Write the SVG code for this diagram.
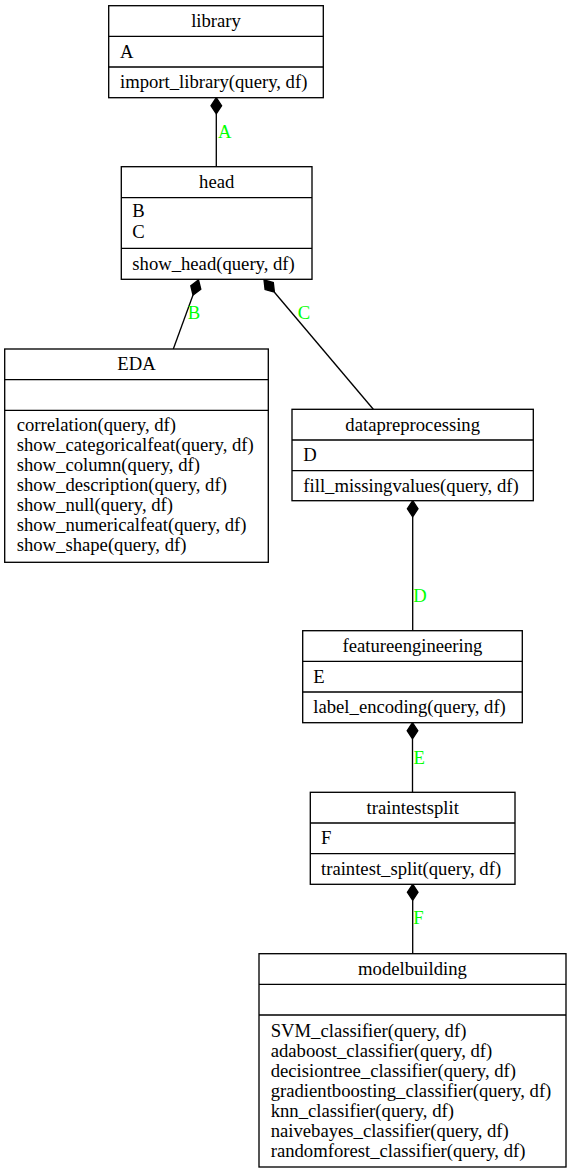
<svg xmlns="http://www.w3.org/2000/svg" width="571" height="1173" viewBox="0 0 571 1173">
<style>
  .box { fill: #ffffff; stroke: #000000; stroke-width: 1.33; }
  .div { stroke: #000000; stroke-width: 1.33; fill: none; }
  text { font-family: 'Liberation Serif', 'DejaVu Serif', serif; font-size: 18.67px; }
  .t { fill: #000000; }
  .c { text-anchor: middle; }
  .edge { stroke: #000000; stroke-width: 1.33; fill: none; }
  .dia { fill: #000000; stroke: #000000; stroke-width: 1.33; }
  .lbl { fill: #00ff00; }
</style>
<rect width="571" height="1173" fill="#ffffff"/>

<g id="connectors">
  <polygon class="dia" points="216.3,97.7 211,105.7 216.3,113.7 221.6,105.7"/>
  <path class="edge" d="M216.3,113.7 L216.3,166.7"/>
  <text class="lbl" x="218" y="137.5">A</text>
  <polygon class="dia" points="198.5,280 200.8,289.3 193,295 190.8,285.7"/>
  <path class="edge" d="M193,295 L173.3,349"/>
  <text class="lbl" x="187.7" y="318.5">B</text>
  <polygon class="dia" points="264,280 273.3,282.6 274.4,292.2 265.1,289.6"/>
  <path class="edge" d="M274.4,292.2 L373.3,409.3"/>
  <text class="lbl" x="297.7" y="318.5">C</text>
  <polygon class="dia" points="412.7,500.7 407.4,508.7 412.7,516.7 418,508.7"/>
  <path class="edge" d="M412.7,516.7 L412.7,630.7"/>
  <text class="lbl" x="413.3" y="602">D</text>
  <polygon class="dia" points="412.5,722.7 407.2,730.7 412.5,738.7 417.8,730.7"/>
  <path class="edge" d="M412.5,738.7 L412.5,792.3"/>
  <text class="lbl" x="413.5" y="763.5">E</text>
  <polygon class="dia" points="412.7,884.3 407.4,892.3 412.7,900.3 418,892.3"/>
  <path class="edge" d="M412.7,900.3 L412.7,953.7"/>
  <text class="lbl" x="413.3" y="923.5">F</text>
</g>

<g id="library">
  <rect class="box" x="108.7" y="5.7" width="214.6" height="92"/>
  <path class="div" d="M108.7,36.4 H323.3 M108.7,67 H323.3"/>
  <text class="t c" x="216" y="27">library</text>
  <text class="t" x="120" y="57.5">A</text>
  <text class="t" x="120" y="88">import_library(query, df)</text>
</g>

<g id="head">
  <rect class="box" x="121.3" y="166.7" width="190.7" height="112.6"/>
  <path class="div" d="M121.3,197.7 H312 M121.3,248.3 H312"/>
  <text class="t c" x="216.7" y="188">head</text>
  <text class="t" x="132.3" y="217">B</text>
  <text class="t" x="132.3" y="237.5">C</text>
  <text class="t" x="132.3" y="269.5">show_head(query, df)</text>
</g>

<g id="EDA">
  <rect class="box" x="4.7" y="349" width="263.6" height="213.3"/>
  <path class="div" d="M4.7,379.7 H268.3 M4.7,410.3 H268.3"/>
  <text class="t c" x="136.5" y="369.5">EDA</text>
  <text class="t" x="16.7" y="431">correlation(query, df)</text>
  <text class="t" x="16.7" y="451">show_categoricalfeat(query, df)</text>
  <text class="t" x="16.7" y="471">show_column(query, df)</text>
  <text class="t" x="16.7" y="491">show_description(query, df)</text>
  <text class="t" x="16.7" y="511">show_null(query, df)</text>
  <text class="t" x="16.7" y="531">show_numericalfeat(query, df)</text>
  <text class="t" x="16.7" y="551">show_shape(query, df)</text>
</g>

<g id="datapreprocessing">
  <rect class="box" x="292" y="409.3" width="241.3" height="91.4"/>
  <path class="div" d="M292,440 H533.3 M292,470.7 H533.3"/>
  <text class="t c" x="412.7" y="430.5">datapreprocessing</text>
  <text class="t" x="303.3" y="461">D</text>
  <text class="t" x="303.3" y="491.5">fill_missingvalues(query, df)</text>
</g>

<g id="featureengineering">
  <rect class="box" x="302.7" y="630.7" width="219.6" height="92"/>
  <path class="div" d="M302.7,661.4 H522.3 M302.7,692 H522.3"/>
  <text class="t c" x="412.5" y="652">featureengineering</text>
  <text class="t" x="313.3" y="682.5">E</text>
  <text class="t" x="313.3" y="713">label_encoding(query, df)</text>
</g>

<g id="traintestsplit">
  <rect class="box" x="310.3" y="792.3" width="204.7" height="92"/>
  <path class="div" d="M310.3,823 H515 M310.3,853.7 H515"/>
  <text class="t c" x="412.7" y="813.5">traintestsplit</text>
  <text class="t" x="321" y="844">F</text>
  <text class="t" x="321" y="874.5">traintest_split(query, df)</text>
</g>

<g id="modelbuilding">
  <rect class="box" x="259" y="953.7" width="307" height="213.3"/>
  <path class="div" d="M259,984.4 H566 M259,1015 H566"/>
  <text class="t c" x="412.5" y="975">modelbuilding</text>
  <text class="t" x="270.7" y="1036.5">SVM_classifier(query, df)</text>
  <text class="t" x="270.7" y="1056.5">adaboost_classifier(query, df)</text>
  <text class="t" x="270.7" y="1076.5">decisiontree_classifier(query, df)</text>
  <text class="t" x="270.7" y="1096.5">gradientboosting_classifier(query, df)</text>
  <text class="t" x="270.7" y="1116.5">knn_classifier(query, df)</text>
  <text class="t" x="270.7" y="1136.5">naivebayes_classifier(query, df)</text>
  <text class="t" x="270.7" y="1156.5">randomforest_classifier(query, df)</text>
</g>
</svg>
